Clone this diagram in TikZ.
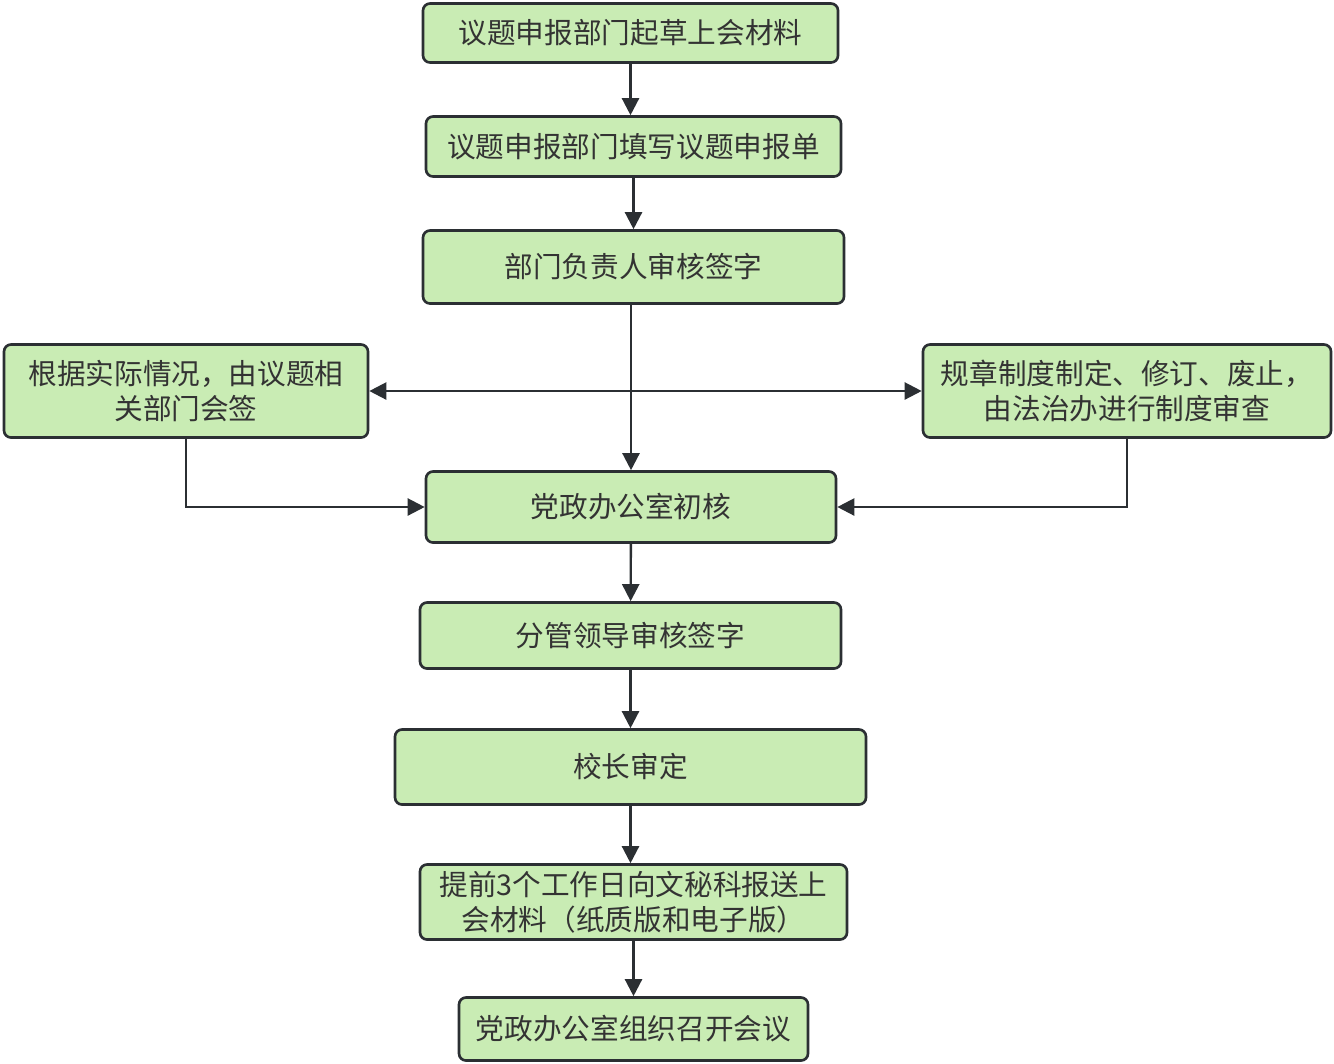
\documentclass[tikz,border=0pt]{standalone}
\usepackage{fontspec}
\usepackage{xcolor}
\usetikzlibrary{arrows.meta}
\newfontfamily\cjk{Noto Sans CJK SC}
\definecolor{boxfill}{HTML}{C9ECB4}
\definecolor{boxline}{HTML}{2B2F33}
\definecolor{txt}{HTML}{333333}

\begin{document}
\begin{tikzpicture}[main/.style = {draw=boxline, line width=1.5pt, fill=boxfill, rounded corners=4pt,
    inner sep=0pt, align=center, text=txt, font=\cjk\fontsize{16.3}{20}\selectfont},
  arr/.style = {draw=boxline, line width=1.35pt, -{Triangle[length=0.34cm,width=0.34cm]}}]
\useasboundingbox (0,0) rectangle (26.68,-21.26);
\node[main, minimum width=8.3cm, minimum height=1.18cm] (1) at (12.61,-0.66) {议题申报部门起草上会材料};
\node[main, minimum width=8.3cm, minimum height=1.2cm] (2) at (12.67,-2.93) {议题申报部门填写议题申报单};
\node[main, minimum width=8.42cm, minimum height=1.46cm] (3) at (12.67,-5.34) {部门负责人审核签字};
\node[main, minimum width=7.28cm, minimum height=1.86cm] (4) at (3.72,-7.82) {根据实际情况，由议题相\\关部门会签};
\node[main, minimum width=8.16cm, minimum height=1.86cm] (5) at (22.54,-7.82) {规章制度制定、修订、废止，\\由法治办进行制度审查};
\node[main, minimum width=8.2cm, minimum height=1.42cm] (6) at (12.62,-10.14) {党政办公室初核};
\node[main, minimum width=8.42cm, minimum height=1.32cm] (7) at (12.61,-12.71) {分管领导审核签字};
\node[main, minimum width=9.42cm, minimum height=1.5cm] (8) at (12.61,-15.34) {校长审定};
\node[main, minimum width=8.54cm, minimum height=1.5cm] (9) at (12.67,-18.04) {提前3个工作日向文秘科报送上\\会材料（纸质版和电子版）};
\node[main, minimum width=6.98cm, minimum height=1.26cm] (10) at (12.67,-20.58) {党政办公室组织召开会议};

% main line
\draw[arr] (1) -- (1 |- 2.north);
\draw[arr] (2) -- (2 |- 3.north);
\draw[arr] (6 |- 3.south) -- (6);
\coordinate (j) at (6 |- 4.east);
\draw[arr] (j) -- (4.east);
\draw[arr] (j) -- (5.west);
\draw[arr] (4.south) |- (6.west);
\draw[arr] (5.south) |- (6.east);
\draw[arr] (6) -- (7);
\draw[arr] (7) -- (8);
\draw[arr] (8) -- (8 |- 9.north);
\draw[arr] (9) -- (10);
\end{tikzpicture}
\end{document}
